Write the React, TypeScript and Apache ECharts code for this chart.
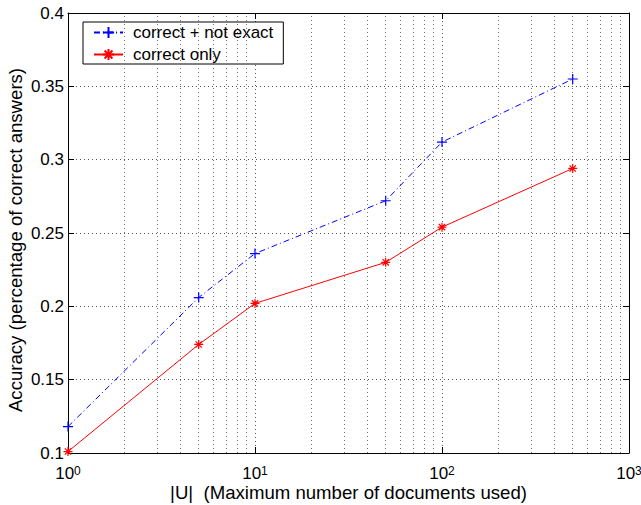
import React, { useEffect, useRef } from "react";
import * as echarts from "echarts";

const xValues = [1, 5, 10, 50, 100, 500];
const notExactValues = [0.118, 0.206, 0.236, 0.272, 0.312, 0.355];
const correctOnlyValues = [0.101, 0.174, 0.202, 0.23, 0.254, 0.294];
const minorGridX = [2, 3, 4, 5, 6, 7, 8, 9, 20, 30, 40, 50, 60, 70, 80, 90, 200, 300, 400, 500, 600, 700, 800, 900];
const seriesNames = ["correct + not exact", "correct only"];

const FONT = "Liberation Sans, Arial, Helvetica, sans-serif";
const PLUS = "path://M5,0 L5,10 M0,5 L10,5";
const STAR = "path://M5,0 L5,10 M0,5 L10,5 M1.5,1.5 L8.5,8.5 M8.5,1.5 L1.5,8.5";

export default function App() {
  const ref = useRef<HTMLDivElement>(null);
  useEffect(() => {
    if (!ref.current) return;
    const chart = echarts.init(ref.current, undefined, { renderer: "svg" });
    const gridLine = { show: true, lineStyle: { color: "#555", type: [1, 3] as any, width: 1 } };
    const tickLabel = (v: number) => `{b|10}{s|${Math.round(Math.log10(v))}}`;
    chart.setOption({
      animation: false,
      backgroundColor: "#fff",
      textStyle: { fontFamily: FONT },
      grid: { left: 68, right: 12, top: 13, bottom: 52, show: false, containLabel: false, outerBoundsMode: "none" },
      legend: {
        orient: "vertical",
        left: 83,
        top: 22,
        itemWidth: 29,
        itemHeight: 14,
        itemGap: 5,
        padding: [2, 10, 1, 10],
        borderColor: "#000",
        borderWidth: 1,
        backgroundColor: "#fff",
        borderRadius: 0,
        textStyle: { fontSize: 17, color: "#000", fontFamily: FONT, padding: [0, 0, 0, 5] },
        data: seriesNames,
      },
      xAxis: [
        {
          type: "log",
          logBase: 10,
          min: 1,
          max: 1000,
          position: "bottom",
          name: "|U|  (Maximum number of documents used)",
          nameLocation: "middle",
          nameGap: 33,
          nameMoveOverlap: false,
          nameTextStyle: { fontSize: 18.6, lineHeight: 12, color: "#000", fontFamily: FONT },
          axisLine: { show: true, onZero: false, lineStyle: { color: "#000", width: 1 } },
          axisTick: { show: true, inside: true, length: 6, lineStyle: { color: "#000" } },
          axisLabel: {
            show: true,
            margin: 12,
            showMinLabel: true,
            showMaxLabel: true,
            hideOverlap: false,
            formatter: tickLabel,
            rich: {
              b: { fontSize: 17, lineHeight: 17, color: "#000", fontFamily: FONT, padding: [4, 0, 0, 0], verticalAlign: "bottom" },
              s: { fontSize: 12, lineHeight: 12, color: "#000", fontFamily: FONT, verticalAlign: "top" },
            },
          },
          splitLine: gridLine,
        },
        {
          type: "log",
          logBase: 10,
          min: 1,
          max: 1000,
          position: "top",
          axisLine: { show: true, onZero: false, lineStyle: { color: "#000", width: 1 } },
          axisTick: { show: true, inside: true, length: 6, lineStyle: { color: "#000" } },
          axisLabel: { show: false },
          splitLine: { show: false },
        },
      ],
      yAxis: [
        {
          type: "value",
          min: 0.1,
          max: 0.4,
          interval: 0.05,
          position: "left",
          name: "Accuracy (percentage of correct answers)",
          nameLocation: "middle",
          nameGap: 43,
          nameMoveOverlap: false,
          nameTextStyle: { fontSize: 18.6, color: "#000", fontFamily: FONT, padding: [0, 14, 0, 0] },
          axisLine: { show: true, onZero: false, lineStyle: { color: "#000", width: 1 } },
          axisTick: { show: true, inside: true, length: 6, lineStyle: { color: "#000" } },
          axisLabel: {
            show: true,
            margin: 4,
            fontSize: 17,
            color: "#000",
            fontFamily: FONT,
            formatter: (v: number) => String(Math.round(v * 100) / 100),
          },
          splitLine: gridLine,
        },
        {
          type: "value",
          min: 0.1,
          max: 0.4,
          interval: 0.05,
          position: "right",
          axisLine: { show: true, onZero: false, lineStyle: { color: "#000", width: 1 } },
          axisTick: { show: true, inside: true, length: 6, lineStyle: { color: "#000" } },
          axisLabel: { show: false },
          splitLine: { show: false },
        },
      ],
      series: [
        {
          name: "minor-grid",
          type: "line",
          xAxisIndex: 0,
          yAxisIndex: 0,
          data: [],
          silent: true,
          markLine: {
            silent: true,
            symbol: ["none", "none"],
            label: { show: false },
            lineStyle: { color: "#777", type: [1, 3] as any, width: 1 },
            emphasis: { disabled: true },
            data: minorGridX.map((v) => ({ xAxis: v })),
          },
        },
        {
          name: seriesNames[0],
          type: "line",
          xAxisIndex: 0,
          yAxisIndex: 0,
          data: xValues.map((x, i) => [x, notExactValues[i]]),
          symbol: PLUS,
          symbolSize: 10,
          showAllSymbol: true,
          lineStyle: { color: "#0000ff", width: 1, type: [6, 3, 1, 3] as any },
          itemStyle: { color: "none", borderColor: "#0000ff", borderWidth: 1.2 },
          z: 5,
        },
        {
          name: seriesNames[1],
          type: "line",
          xAxisIndex: 0,
          yAxisIndex: 0,
          data: xValues.map((x, i) => [x, correctOnlyValues[i]]),
          symbol: STAR,
          symbolSize: 9,
          showAllSymbol: true,
          lineStyle: { color: "#ff0000", width: 1, type: "solid" },
          itemStyle: { color: "none", borderColor: "#ff0000", borderWidth: 1.2 },
          z: 5,
        },
      ],
    });
    return () => chart.dispose();
  }, []);
  return <div ref={ref} style={{ width: 641, height: 505, position: "absolute", left: 0, top: 0 }} />;
}
